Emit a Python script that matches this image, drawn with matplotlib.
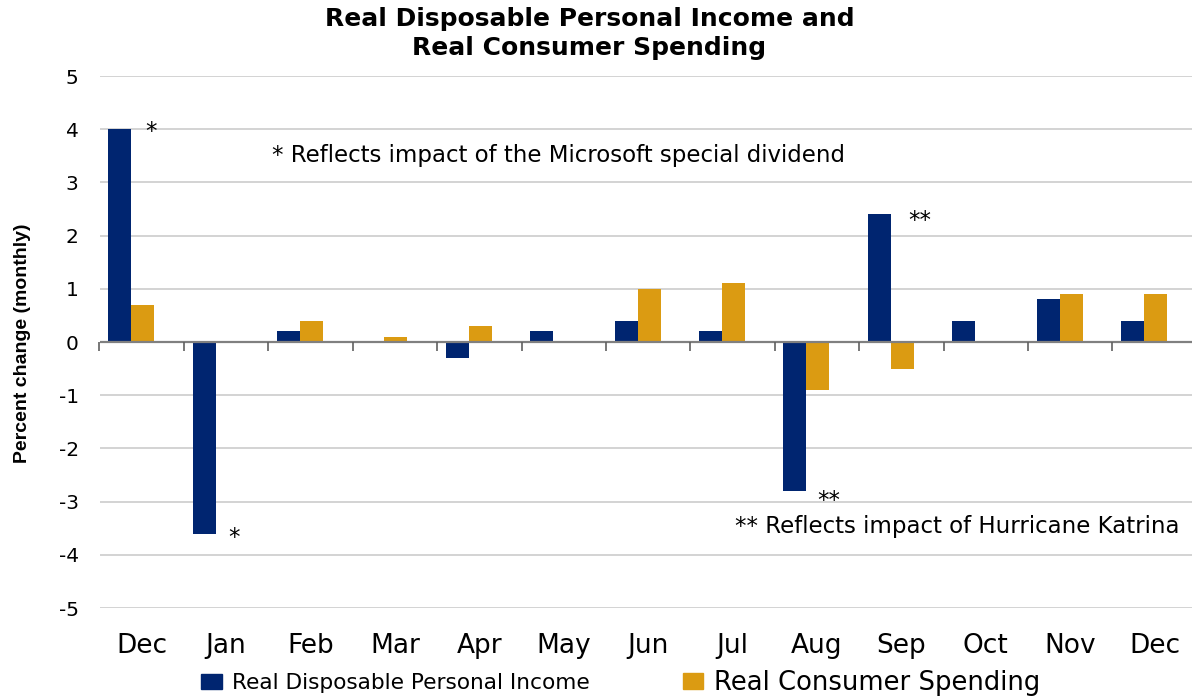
import matplotlib
matplotlib.use("Agg")
import matplotlib.pyplot as plt
from matplotlib.patches import Patch
import numpy as np

plt.rcParams['axes.unicode_minus'] = False
plt.rcParams['font.family'] = ['DejaVu Sans']

# ---- data ----
months = ["Dec", "Jan", "Feb", "Mar", "Apr", "May", "Jun", "Jul", "Aug", "Sep", "Oct", "Nov", "Dec"]
income = [4.0, -3.6, 0.2, 0.0, -0.3, 0.2, 0.4, 0.2, -2.8, 2.4, 0.4, 0.8, 0.4]
spending = [0.7, 0.0, 0.4, 0.1, 0.3, 0.0, 1.0, 1.1, -0.9, -0.5, 0.0, 0.9, 0.9]
yticks = list(range(-5, 6))
series_names = ["Real Disposable Personal Income", "Real Consumer Spending"]
title = "Real Disposable Personal Income and\nReal Consumer Spending"
ylabel = "Percent change (monthly)"
note1 = "* Reflects impact of the Microsoft special dividend"
note2 = "** Reflects impact of Hurricane Katrina"

BLUE = "#002570"
GOLD = "#DB9B12"

W, H = 1192, 696
fig = plt.figure(figsize=(W / 100, H / 100), dpi=100)
left_px, right_px, top_px, bot_px = 99.5, 1192, 76, 608
ax = fig.add_axes([left_px / W, (H - bot_px) / H, (right_px - left_px) / W, (bot_px - top_px) / H])

cat_px = 84.4
x = np.arange(len(months))
bw = 0.2725
ax.bar(x - 0.26, income, width=bw, color=BLUE, zorder=2)
ax.bar(x + 0.0125, spending, width=bw, color=GOLD, zorder=2)

ax.set_xlim(-0.5, -0.5 + (right_px - left_px) / cat_px)
ax.set_ylim(-5, 5)

ax.set_yticks(yticks)
ax.yaxis.grid(True, color="#c8c8c8", linewidth=1.1, zorder=0)
ax.set_axisbelow(True)
ax.axhline(0, color="#808080", linewidth=1.6, zorder=3)
ax.vlines(np.arange(len(months) + 1) - 0.5, 0, -0.16, colors="#606060",
          linewidth=1.2, zorder=3, clip_on=False)

for s in ax.spines.values():
    s.set_visible(False)

ax.set_xticks(x)
ax.set_xticklabels(months, fontsize=19)
ax.tick_params(axis="x", length=0, pad=18)
ax.tick_params(axis="y", length=0, pad=15, labelsize=14.5)

# annotations
ax.text(0.110, 3.84, "*", ha="center", va="baseline", fontsize=16.5)
ax.text(1.094, -3.80, "*", ha="center", va="baseline", fontsize=16.5)
ax.text(9.215, 2.16, "**", ha="center", va="baseline", fontsize=16.5)
ax.text(8.137, -3.10, "**", ha="center", va="baseline", fontsize=16.5)
ax.text(4.938, 3.38, note1, ha="center", va="baseline", fontsize=16.5)
ax.text(9.665, -3.59, note2, ha="center", va="baseline", fontsize=16.5)

fig.text(589.5 / W, 1 - 33.5 / H, title, ha="center", va="center",
         fontsize=18, fontweight="bold", linespacing=1.22)
fig.text(23 / W, 1 - 343 / H, ylabel, rotation=90, ha="center", va="center",
         fontsize=14, fontweight="bold", family=["Liberation Sans", "DejaVu Sans"])

# legends (two entries with different text sizes)
fs1 = 15.6
leg1 = fig.legend(handles=[Patch(color=BLUE)], labels=[series_names[0]],
                  loc="center left", bbox_to_anchor=(201 / W, 1 - 683 / H),
                  frameon=False, fontsize=fs1, borderpad=0, borderaxespad=0,
                  handlelength=21 / (fs1 * 1.389), handleheight=16 / (fs1 * 1.389),
                  handletextpad=10 / (fs1 * 1.389))
fs2 = 18.6
leg2 = fig.legend(handles=[Patch(color=GOLD)], labels=[series_names[1]],
                  loc="center left", bbox_to_anchor=(683 / W, 1 - 683 / H),
                  frameon=False, fontsize=fs2, borderpad=0, borderaxespad=0,
                  handlelength=20 / (fs2 * 1.389), handleheight=16 / (fs2 * 1.389),
                  handletextpad=11 / (fs2 * 1.389))

fig.savefig("out.png", dpi=100)
